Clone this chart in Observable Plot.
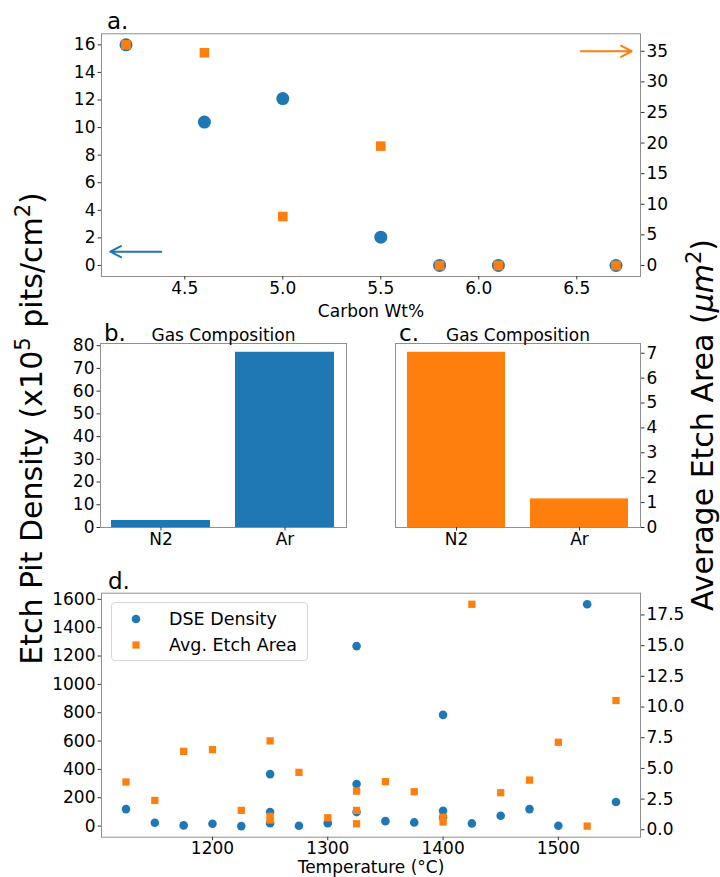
<!DOCTYPE html>
<html><head><meta charset="utf-8">
<script src="https://cdn.jsdelivr.net/npm/d3@7"></script>
<script src="https://cdn.jsdelivr.net/npm/@observablehq/plot@0.6"></script>
<style>
body{margin:0;background:#fff;}
#wrap{position:relative;width:720px;height:877px;overflow:hidden;font-family:"DejaVu Sans",sans-serif;}
#wrap svg{position:absolute;left:0;}
.legend{position:absolute;left:111px;top:602px;width:195px;height:57px;border:1px solid #d9d9d9;border-radius:4px;background:rgba(255,255,255,0.8);font-size:17.5px;}
.legend .row{position:absolute;left:0;display:flex;align-items:center;white-space:nowrap;}
</style></head>
<body><div id="wrap"></div>
<script>
// ---------- data ----------
const blue = "#1f77b4", orange = "#ff7f0e";

// panel a: carbon content
const carbonWt      = [4.2, 4.6, 5.0, 5.5, 5.8, 6.1, 6.7];
const carbonDensity = [16.0, 10.4, 12.1, 2.05, 0, 0, 0];
const carbonArea    = [36.05, 34.75, 8.0, 19.5, 0, 0, 0];
const aXTicks = [4.5, 5.0, 5.5, 6.0, 6.5];
const aLeftTicks = [0, 2, 4, 6, 8, 10, 12, 14, 16];
const aRightTicks = [0, 5, 10, 15, 20, 25, 30, 35];
const arrowX1 = [4.38, 6.52];
const arrowX2 = [4.12, 6.78];
const arrowY  = [1, 35];

// panels b, c: gas composition
const gases = ["N2", "Ar"];
const gasDensity = [3.1, 77.1];
const gasArea = [7.04, 1.15];
const bTicks = [0, 10, 20, 30, 40, 50, 60, 70, 80];
const cTicks = [0, 1, 2, 3, 4, 5, 6, 7];

// panel d: temperature
const densityT = [1125,1150,1175,1200,1225,1250,1250,1250,1275,1300,1325,1325,1325,1350,1375,1400,1400,1400,1425,1450,1475,1500,1525,1550];
const densityV = [120,24,5,17,0,367,99,21,3,21,1270,297,99,35,26,785,108,60,19,73,120,3,1565,170];
const areaT = [1125,1150,1175,1200,1225,1250,1250,1250,1275,1300,1325,1325,1325,1350,1375,1400,1400,1425,1450,1475,1500,1525,1550];
const areaV = [3.89,2.39,6.39,6.53,1.58,7.24,1.1,0.8,4.68,0.98,3.15,1.58,0.49,3.92,3.1,1.03,0.63,18.37,3.02,4.05,7.13,0.3,10.53];
const dXTicks = [1200, 1300, 1400, 1500];
const dLeftTicks = [0, 200, 400, 600, 800, 1000, 1200, 1400, 1600];
const dRightTicks = [0, 2.5, 5, 7.5, 10, 12.5, 15, 17.5];

// ---------- helpers ----------
const wrap = document.getElementById("wrap");
const FONT = '"DejaVu Sans", sans-serif';
function pad(vals, f = 0.05) { const [a, b] = d3.extent(vals); const m = (b - a) * f; return [a - m, b + m]; }
function style() { return {background: "none", fontFamily: FONT, fontSize: "17px", color: "#000", overflow: "visible"}; }
function place(svg, top) { svg.style.position = "absolute"; svg.style.left = "0px"; svg.style.top = top + "px"; wrap.appendChild(svg); }
const axisOpts = {tickSize: 3.5, tickPadding: 2.5, label: null, stroke: "#333"};
const xAxisOpts = {tickSize: 3.5, tickPadding: 1.5, label: null, stroke: "#333"};
const frame = () => Plot.frame({stroke: "#8f8f8f", strokeWidth: 1});
const zip = (xs, ys) => xs.map((x, i) => ({x, y: ys[i]}));

// ---------- panel a ----------
const aGeom = {width: 720, height: 330, marginTop: 33.3, marginBottom: 54, marginLeft: 101, marginRight: 80};
const aX = {domain: pad(carbonWt)};
const arrows = arrowY.map((y, i) => ({x1: arrowX1[i], x2: arrowX2[i], y}));

place(Plot.plot({
  ...aGeom, style: style(),
  x: aX, y: {domain: pad(carbonDensity)},
  marks: [
    frame(),
    Plot.axisX({...xAxisOpts, ticks: aXTicks, tickFormat: d3.format(".1f")}),
    Plot.axisY({...axisOpts, ticks: aLeftTicks}),
    Plot.dot(zip(carbonWt, carbonDensity), {x: "x", y: "y", r: 6.5, fill: blue}),
    Plot.arrow(arrows.slice(0, 1), {x1: "x1", x2: "x2", y1: "y", y2: "y", stroke: blue, strokeWidth: 2, headLength: 9, headAngle: 55}),
    Plot.text(["Carbon Wt%"], {text: d => d, frameAnchor: "bottom", dy: 40, lineAnchor: "bottom", fontSize: 17}),
    Plot.text(["a."], {text: d => d, frameAnchor: "top-left", textAnchor: "start", dx: 5.5, dy: -5, lineAnchor: "bottom", fontSize: 23})
  ]
}), 0);

place(Plot.plot({
  ...aGeom, style: style(),
  x: {...aX, axis: null}, y: {domain: pad(carbonArea)},
  marks: [
    Plot.axisY({...axisOpts, anchor: "right", ticks: aRightTicks}),
    Plot.dot(zip(carbonWt, carbonArea), {x: "x", y: "y", r: 5.4, symbol: "square", fill: orange}),
    Plot.arrow(arrows.slice(1), {x1: "x1", x2: "x2", y1: "y", y2: "y", stroke: orange, strokeWidth: 2, headLength: 9, headAngle: 55})
  ]
}), 0);

// ---------- panels b, c ----------
const bcGeom = {width: 720, height: 260, marginTop: 43, marginBottom: 33};
const bandX = {domain: gases, paddingInner: 0.2, paddingOuter: 0.09, label: null};

place(Plot.plot({
  ...bcGeom, marginLeft: 100, marginRight: 374, style: style(),
  x: bandX, y: {domain: [0, d3.max(gasDensity) * 1.05]},
  marks: [
    Plot.barY(zip(gases, gasDensity), {x: "x", y: "y", fill: blue}),
    frame(),
    Plot.axisX({...xAxisOpts}),
    Plot.axisY({...axisOpts, ticks: bTicks}),
    Plot.text(["Gas Composition"], {text: d => d, frameAnchor: "top", dy: -3, lineAnchor: "bottom", fontSize: 17}),
    Plot.text(["b."], {text: d => d, frameAnchor: "top-left", textAnchor: "start", dx: 3.5, dy: -3, lineAnchor: "bottom", fontSize: 23})
  ]
}), 300);

place(Plot.plot({
  ...bcGeom, marginLeft: 395, marginRight: 80, style: style(),
  x: bandX, y: {domain: [0, d3.max(gasArea) * 1.05]},
  marks: [
    Plot.barY(zip(gases, gasArea), {x: "x", y: "y", fill: orange}),
    frame(),
    Plot.axisX({...xAxisOpts}),
    Plot.axisY({...axisOpts, anchor: "right", ticks: cTicks}),
    Plot.text(["Gas Composition"], {text: d => d, frameAnchor: "top", dy: -3, lineAnchor: "bottom", fontSize: 17}),
    Plot.text(["c."], {text: d => d, frameAnchor: "top-left", textAnchor: "start", dx: 3.5, dy: -3, lineAnchor: "bottom", fontSize: 23})
  ]
}), 300);

// ---------- panel d ----------
const dGeom = {width: 720, height: 337, marginTop: 52.7, marginBottom: 40.3, marginLeft: 101, marginRight: 80};
const dX = {domain: pad(densityT.concat(areaT))};

place(Plot.plot({
  ...dGeom, style: style(),
  x: dX, y: {domain: pad(densityV)},
  marks: [
    frame(),
    Plot.axisX({...xAxisOpts, tickPadding: 1, ticks: dXTicks, tickFormat: d3.format("d")}),
    Plot.axisY({...axisOpts, ticks: dLeftTicks, tickFormat: d3.format("d")}),
    Plot.dot(zip(densityT, densityV), {x: "x", y: "y", r: 4.3, fill: blue}),
    Plot.text(["Temperature (°C)"], {text: d => d, frameAnchor: "bottom", dy: 35.5, lineAnchor: "bottom", fontSize: 17}),
    Plot.text(["d."], {text: d => d, frameAnchor: "top-left", textAnchor: "start", dx: 6.5, dy: -4.5, lineAnchor: "bottom", fontSize: 23})
  ]
}), 540);

place(Plot.plot({
  ...dGeom, style: style(),
  x: {...dX, axis: null}, y: {domain: pad(areaV)},
  marks: [
    Plot.axisY({...axisOpts, anchor: "right", ticks: dRightTicks, tickFormat: d3.format(".1f")}),
    Plot.dot(zip(areaT, areaV), {x: "x", y: "y", r: 4.1, symbol: "square", fill: orange})
  ]
}), 540);

// legend for panel d
const legendItems = [
  {label: "DSE Density", color: blue, shape: "circle"},
  {label: "Avg. Etch Area", color: orange, shape: "square"}
];
const lg = document.createElement("div");
lg.className = "legend";
legendItems.forEach((it, i) => {
  const row = document.createElement("div");
  row.className = "row";
  row.style.top = (i === 0 ? 4 : 30) + "px";
  row.style.height = "23px";
  const sw = it.shape === "circle"
    ? `<svg width="16" height="16" style="position:static;margin-left:16px"><circle cx="8" cy="8" r="4.3" fill="${it.color}"/></svg>`
    : `<svg width="16" height="16" style="position:static;margin-left:16px"><rect x="4.4" y="4.4" width="7.2" height="7.2" fill="${it.color}"/></svg>`;
  row.innerHTML = sw + `<span style="margin-left:25px">${it.label}</span>`;
  lg.appendChild(row);
});
wrap.appendChild(lg);

// big side labels
const ov = d3.create("svg").attr("width", 720).attr("height", 877)
  .style("position", "absolute").style("left", "0px").style("top", "0px")
  .style("font-family", FONT).style("pointer-events", "none");
const left = ov.append("text").attr("transform", "translate(42,428.5) rotate(-90)")
  .attr("text-anchor", "middle").attr("font-size", 30).attr("fill", "#000");
left.append("tspan").text("Etch Pit Density (x10");
left.append("tspan").attr("font-size", 21).attr("dy", -12).text("5");
left.append("tspan").attr("dy", 12).text(" pits/cm");
left.append("tspan").attr("font-size", 21).attr("dy", -12).text("2");
left.append("tspan").attr("dy", 12).text(")");
const right = ov.append("text").attr("transform", "translate(713,425) rotate(-90)")
  .attr("text-anchor", "middle").attr("font-size", 30).attr("fill", "#000");
right.append("tspan").text("Average Etch Area (");
right.append("tspan").attr("font-style", "italic").text("μm");
right.append("tspan").attr("font-size", 21).attr("dy", -12).text("2");
right.append("tspan").attr("dy", 12).text(")");
wrap.appendChild(ov.node());
</script>
</body></html>
